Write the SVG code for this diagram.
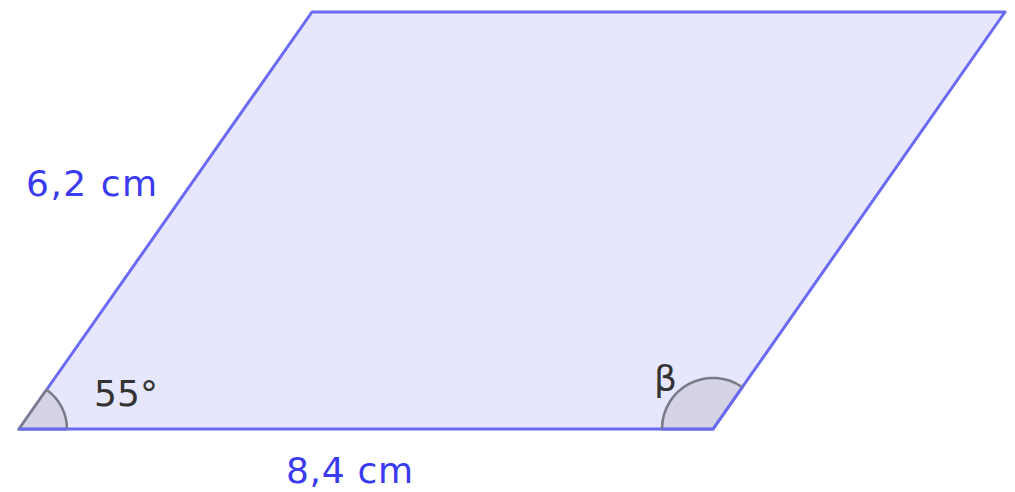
<svg xmlns="http://www.w3.org/2000/svg" width="1015" height="492" viewBox="0 0 1015 492">
<style>
.shape{fill:#e6e6fc;stroke:#6a6af2;stroke-width:3;stroke-linejoin:round}
.angle{fill:#d4d4e6;stroke:#7a7a88;stroke-width:2.5}
.len{font-family:"DejaVu Sans",sans-serif;font-size:36px;fill:#3a3af0}
.lbl{font-family:"DejaVu Sans",sans-serif;font-size:36px;fill:#333}
</style>
<rect width="1015" height="492" fill="#fff"/>
<g id="parallelogram">
<polygon class="shape" points="19,429 713,429 1005,12 312,12"/>
</g>
<g id="angle-alpha">
<path class="angle" d="M19,429 L67,429 A48,48 0 0 0 46.5,389.7 Z"/>
<path d="M19,429 L67,429" stroke="#6a6af2" stroke-width="3"/>
</g>
<g id="angle-beta">
<path class="angle" d="M713,429 L662,429 A51,51 0 0 1 742.3,387.2 Z"/>
<path d="M662,429 L713,429 L742.3,387.2" fill="none" stroke="#6a6af2" stroke-width="3"/>
</g>
<g id="labels">
<text class="len" x="26" y="196" textLength="131" lengthAdjust="spacing">6,2 cm</text>
<text class="len" x="286" y="483" textLength="127" lengthAdjust="spacing">8,4 cm</text>
<text class="lbl" x="94" y="406" textLength="64" lengthAdjust="spacing">55°</text>
<text class="lbl" x="654" y="391">β</text>
</g>
</svg>
